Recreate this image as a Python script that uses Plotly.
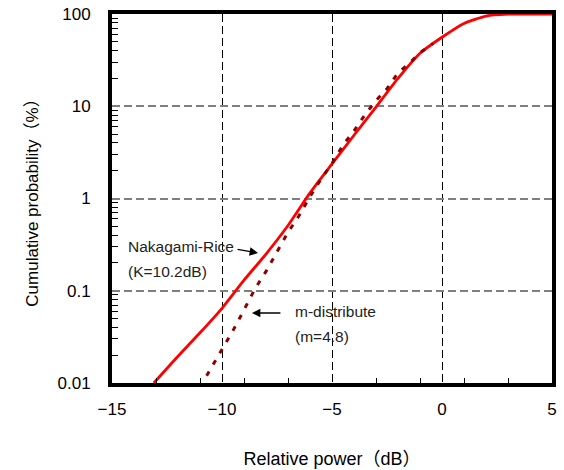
import plotly.graph_objects as go

# Nakagami-Rice fit (K = 10.2 dB): relative power (dB) vs cumulative probability (%)
rice_x = [-13.1, -12, -11, -10, -9, -8, -7, -6, -5, -4, -3, -2, -1, 0, 1, 2, 3, 4, 5]
rice_y = [0.01, 0.0195, 0.035, 0.0645, 0.13, 0.25, 0.51, 1.15, 2.37, 4.85, 9.8,
          20, 37.5, 56, 79, 95, 99.5, 100, 100]

# m-distribution fit (m = 4.8)
mdist_x = [-10.7, -10, -9.5, -9, -8.5, -8, -7.5, -7, -6.5, -6, -5.5, -5, -4.5,
           -4, -3.5, -3, -2.5, -2, -1.5, -1, -0.4]
mdist_y = [0.012, 0.023, 0.037, 0.062, 0.105, 0.162, 0.263, 0.43, 0.65, 1.05,
           1.62, 2.4, 3.8, 5.4, 8.1, 11.5, 15.5, 23, 29, 38, 48]

x_ticks = [-15, -10, -5, 0, 5]
x_minor = [-13, -11, -9, -7, -3, -1, 1, 3]
y_ticks = [0.01, 0.1, 1, 10, 100]
y_ticktext = ["0.01", "0.1", "1", "10", "100"]
y_minor = [m * 10.0 ** e for e in range(-2, 2) for m in range(2, 10)]

FONT = "Liberation Sans, Arial, Noto Sans CJK JP"

fig = go.Figure()
fig.add_trace(go.Scatter(
    x=rice_x, y=rice_y, mode="lines",
    line=dict(color="#ff0000", width=2.8, shape="spline", smoothing=0.6),
    showlegend=False,
))
fig.add_trace(go.Scatter(
    x=mdist_x, y=mdist_y, mode="lines",
    line=dict(color="#8b0000", width=3, dash="5px,8px"),
    showlegend=False,
))

text_font = dict(family=FONT, size=15.5, color="#222222")
fig.add_annotation(x=-14.36, y=-0.515, xref="x", yref="y", text="Nakagami-Rice",
                   showarrow=False, xanchor="left", yanchor="middle", font=text_font)
fig.add_annotation(x=-14.36, y=-0.793, xref="x", yref="y", text="(K=10.2dB)",
                   showarrow=False, xanchor="left", yanchor="middle", font=text_font)
fig.add_annotation(x=-6.76, y=-1.22, xref="x", yref="y", text="m-distribute",
                   showarrow=False, xanchor="left", yanchor="middle", font=text_font)
fig.add_annotation(x=-6.76, y=-1.50, xref="x", yref="y", text="(m=4.8)",
                   showarrow=False, xanchor="left", yanchor="middle", font=text_font)

# arrows pointing at each curve
fig.add_annotation(x=-8.36, y=-0.591, xref="x", yref="y", ax=-22, ay=-4,
                   showarrow=True, arrowhead=2, arrowsize=1.3, arrowwidth=1.3,
                   arrowcolor="black", text="")
fig.add_annotation(x=-8.64, y=-1.241, xref="x", yref="y", ax=30, ay=0,
                   showarrow=True, arrowhead=2, arrowsize=1.3, arrowwidth=1.3,
                   arrowcolor="black", text="")

fig.update_layout(
    width=564, height=470,
    margin=dict(l=112, r=12, t=14, b=87),
    paper_bgcolor="white", plot_bgcolor="white",
    font=dict(family=FONT, size=17, color="black"),
    xaxis=dict(
        range=[-15, 5], tickvals=x_ticks, ticks="", automargin=False,
        showgrid=True, gridcolor="black", gridwidth=1, griddash="8px,4px",
        showline=True, linecolor="black", linewidth=4, mirror=True,
        zeroline=False, ticklabelstandoff=8,
        minor=dict(tickvals=x_minor, ticks="inside", ticklen=5,
                   tickcolor="black", tickwidth=1, showgrid=False),
        title=dict(text="Relative power（dB）", font=dict(size=18), standoff=35),
    ),
    yaxis=dict(
        type="log", range=[-2, 2], tickvals=y_ticks, ticktext=y_ticktext, ticks="",
        automargin=False,
        showgrid=True, gridcolor="#7f7f7f", gridwidth=1.5, griddash="8px,4px",
        showline=True, linecolor="black", linewidth=4, mirror=True,
        zeroline=False, ticklabelstandoff=14,
        minor=dict(tickvals=y_minor, ticks="inside", ticklen=6,
                   tickcolor="black", tickwidth=1, showgrid=False),
        title=dict(text="Cumulative probability（%）", font=dict(size=17), standoff=16),
    ),
)

fig.write_html("out.html")
